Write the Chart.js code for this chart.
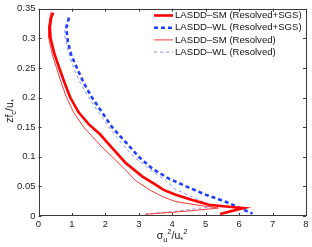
<!DOCTYPE html>
<html lang="en">
<head>
    <meta charset="UTF-8">
    <title>Velocity variance profile</title>
    <script src="https://cdn.jsdelivr.net/npm/chart.js"></script>
    <style>
        html, body { margin: 0; padding: 0; background: #fff; }
        #wrap { width: 312px; height: 247px; }
    </style>
</head>
<body>
    <div id="wrap"><canvas id="profileChart" width="312" height="247"></canvas></div>

    <script>
        // sigma_u^2/u*^2 (x) against z fc/u* (y)
        const smTotalX = [0.44, 0.38, 0.34, 0.36, 0.47, 0.62, 0.78, 0.95, 1.2, 1.5, 1.84, 2.2, 2.6, 3.1, 3.5, 3.74, 4.1, 4.6, 5.1, 5.6, 6.13, 5.43];
        const smTotalY = [0.343, 0.335, 0.32, 0.30, 0.275, 0.25, 0.225, 0.20, 0.175, 0.155, 0.138, 0.115, 0.09, 0.067, 0.053, 0.044, 0.036, 0.027, 0.019, 0.016, 0.0134, 0.0033];

        const wlTotalX = [0.91, 0.83, 0.88, 0.98, 1.15, 1.35, 1.6, 1.9, 2.2, 2.6, 3.0, 3.4, 3.9, 4.5, 5.0, 5.6, 6.0, 6.4];
        const wlTotalY = [0.335, 0.317, 0.294, 0.272, 0.25, 0.225, 0.2, 0.175, 0.15, 0.125, 0.1, 0.08, 0.063, 0.048, 0.036, 0.024, 0.014, 0.004];

        const smResX = [0.38, 0.34, 0.30, 0.31, 0.40, 0.54, 0.68, 0.84, 1.05, 1.35, 1.84, 2.2, 2.6, 2.9, 3.34, 3.7, 4.09, 4.8, 5.38, 4.5, 3.2];
        const smResY = [0.345, 0.335, 0.32, 0.30, 0.275, 0.25, 0.225, 0.2, 0.175, 0.15, 0.12, 0.1, 0.078, 0.06, 0.0435, 0.033, 0.0245, 0.018, 0.0134, 0.0085, 0.003];

        const wlResX = [0.92, 0.80, 0.78, 0.88, 1.05, 1.25, 1.5, 1.8, 2.1, 2.45, 2.85, 3.3, 3.8, 4.1, 4.6, 5.0, 5.2, 4.1, 3.2];
        const wlResY = [0.333, 0.32, 0.305, 0.28, 0.25, 0.225, 0.2, 0.175, 0.15, 0.125, 0.1, 0.08, 0.06, 0.045, 0.032, 0.022, 0.016, 0.008, 0.003];

        const seriesLabels = [
            "LASDD–SM (Resolved+SGS)",
            "LASDD–WL (Resolved+SGS)",
            "LASDD–SM (Resolved)",
            "LASDD–WL (Resolved)"
        ];
        const xTicks = [0, 1, 2, 3, 4, 5, 6, 7, 8];
        const yTicks = [0, 0.05, 0.1, 0.15, 0.2, 0.25, 0.3, 0.35];

        const toPoints = (xs, ys) => xs.map((x, i) => ({ x: x, y: ys[i] }));
        const FONT = "'Liberation Sans', Arial, sans-serif";

        // box with inward ticks on all four sides, like MATLAB "box on"
        const axesBox = {
            id: "axesBox",
            afterDraw(chart) {
                const { ctx, chartArea: a, scales } = chart;
                ctx.save();
                ctx.strokeStyle = "#3a3a3a";
                ctx.lineWidth = 1;
                ctx.strokeRect(Math.round(a.left) + 0.5, Math.round(a.top) + 0.5,
                    Math.round(a.right - a.left) - 1, Math.round(a.bottom - a.top) - 1);
                ctx.beginPath();
                xTicks.forEach(v => {
                    const px = Math.round(scales.x.getPixelForValue(v)) + 0.5;
                    ctx.moveTo(px, a.bottom); ctx.lineTo(px, a.bottom - 3);
                    ctx.moveTo(px, a.top); ctx.lineTo(px, a.top + 3);
                });
                yTicks.forEach(v => {
                    const py = Math.round(scales.y.getPixelForValue(v)) + 0.5;
                    ctx.moveTo(a.left, py); ctx.lineTo(a.left + 3, py);
                    ctx.moveTo(a.right, py); ctx.lineTo(a.right - 3, py);
                });
                ctx.stroke();

                // legend inside the top right corner
                chart.data.datasets.forEach((ds, i) => {
                    const y = 15.5 + i * 12.2;
                    ctx.beginPath();
                    ctx.strokeStyle = ds.borderColor;
                    ctx.lineWidth = ds.borderWidth;
                    ctx.setLineDash(ds.borderDash || []);
                    ctx.moveTo(154, y); ctx.lineTo(173, y);
                    ctx.stroke();
                    ctx.setLineDash([]);
                    ctx.fillStyle = "#111";
                    ctx.font = "9.6px " + FONT;
                    ctx.textBaseline = "middle";
                    ctx.textAlign = "left";
                    ctx.fillText(ds.label, 175, y);
                });

                // axis titles with sub/superscripts
                const runs = (parts, cx, cy) => {
                    let w = 0;
                    parts.forEach(p => { ctx.font = p.size + "px " + FONT; w += ctx.measureText(p.t).width; });
                    let x = cx - w / 2;
                    parts.forEach(p => {
                        ctx.font = p.size + "px " + FONT;
                        ctx.fillText(p.t, x, cy + (p.dy || 0));
                        x += ctx.measureText(p.t).width;
                    });
                };
                ctx.fillStyle = "#111";
                ctx.textBaseline = "alphabetic";
                ctx.textAlign = "left";
                runs([
                    { t: "σ", size: 10.5 },
                    { t: "u", size: 7.5, dy: 3 },
                    { t: "2", size: 7.5, dy: -5 },
                    { t: "/u", size: 10.5 },
                    { t: "*", size: 7.5, dy: 3 },
                    { t: "2", size: 7.5, dy: -5 }
                ], 172, 239);

                ctx.save();
                ctx.translate(13, 111);
                ctx.rotate(-Math.PI / 2);
                runs([
                    { t: "zf", size: 10.5 },
                    { t: "c", size: 7.5, dy: 3 },
                    { t: "/u", size: 10.5 },
                    { t: "*", size: 7.5, dy: 3 }
                ], 0, 0);
                ctx.restore();
                ctx.restore();
            }
        };

        new Chart(document.getElementById("profileChart"), {
            type: "scatter",
            data: {
                datasets: [
                    { label: seriesLabels[0], data: toPoints(smTotalX, smTotalY), borderColor: "#ff0000", borderWidth: 2.6 },
                    { label: seriesLabels[1], data: toPoints(wlTotalX, wlTotalY), borderColor: "#1f3fff", borderWidth: 2.6, borderDash: [4, 3] },
                    { label: seriesLabels[2], data: toPoints(smResX, smResY), borderColor: "#ff2020", borderWidth: 0.9 },
                    { label: seriesLabels[3], data: toPoints(wlResX, wlResY), borderColor: "#7080ff", borderWidth: 0.9, borderDash: [3, 3] }
                ].map(ds => Object.assign(ds, { showLine: true, pointRadius: 0, fill: false, tension: 0 }))
            },
            options: {
                responsive: false,
                animation: false,
                layout: { padding: { top: 7, right: 6, left: 0, bottom: 0 } },
                plugins: { legend: { display: false }, tooltip: { enabled: false } },
                scales: {
                    x: {
                        type: "linear", min: 0, max: 8,
                        afterBuildTicks: s => { s.ticks = xTicks.map(v => ({ value: v })); },
                        afterFit: s => { s.height = 31; },
                        grid: { display: false, drawTicks: false },
                        border: { display: false },
                        ticks: { color: "#222", font: { family: FONT, size: 9.5 }, padding: 3, callback: v => String(v) }
                    },
                    y: {
                        type: "linear", min: 0, max: 0.35,
                        afterBuildTicks: s => { s.ticks = yTicks.map(v => ({ value: v })); },
                        afterFit: s => { s.width = 38.5; },
                        grid: { display: false, drawTicks: false },
                        border: { display: false },
                        ticks: { color: "#222", font: { family: FONT, size: 9.5 }, padding: 3, callback: v => String(+v.toFixed(2)) }
                    }
                }
            },
            plugins: [axesBox]
        });
    </script>
</body>
</html>
